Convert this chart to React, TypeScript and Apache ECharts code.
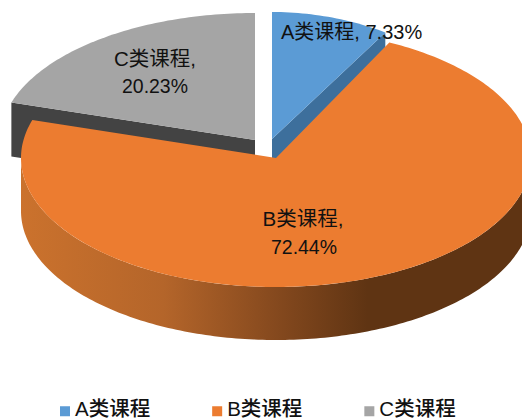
import React, { useEffect, useRef } from "react";
import * as echarts from "echarts";

const categories = ["A类课程", "B类课程", "C类课程"];
const shares = [7.33, 72.44, 20.23];
const faceColors = ["#5b9bd5", "#ec7c30", "#a5a5a5"];
const sideColors = ["#3d6f9c", "#8a4b1d", "#434343"];
const sideStops = [
  { offset: 0, color: "#cb722d" },
  { offset: 0.28, color: "#b4652a" },
  { offset: 0.5, color: "#85491e" },
  { offset: 0.68, color: "#5f3413" },
  { offset: 1, color: "#5f3413" },
];
const centers = [
  [272, 139],
  [276, 158],
  [255, 140],
];
const radiiX = [255, 255, 255];
const radiiY = [127, 129, 127];
const perspective = [1.25, 1, 1];
const thickness = 54;
const labelLines = [
  [[281, 32, "left", true]],
  [[303, 218, "center", false], [304, 247, "center", false]],
  [[155, 58, "center", false], [155, 86, "center", false]],
];
const drawOrder = [2, 0, 1];
const FONT = '"Liberation Sans", "Noto Sans CJK SC", sans-serif';
const LEGEND_ICON = "path://M0 0L10 0L10 0.01L0 0.01Z M0 6L10 6L10 16L0 16Z";

const total = shares.reduce((a, b) => a + b, 0);

function startAngle(index: number) {
  let s = 0;
  for (let i = 0; i < index; i++) s += shares[i];
  return (s / total) * 360;
}

function rim(i: number, from: number, to: number, dy = 0) {
  const [cx, cy] = centers[i];
  const pts: number[][] = [];
  const n = Math.max(2, Math.ceil(Math.abs(to - from)));
  for (let k = 0; k <= n; k++) {
    const t = ((from + ((to - from) * k) / n) * Math.PI) / 180;
    pts.push([cx + radiiX[i] * Math.sin(t), cy - radiiY[i] * Math.cos(t * perspective[i]) + dy]);
  }
  return pts;
}

function renderSlice(i: number) {
  return () => {
    const [cx, cy] = centers[i];
    const a0 = startAngle(i);
    const a1 = a0 + (shares[i] / total) * 360;
    const children: any[] = [];
    // radial wall, visible for slices whose cut edge faces the viewer
    if (i === 0) {
      const e = rim(i, a1, a1)[0];
      children.push({
        type: "polygon",
        shape: { points: [[cx, cy], e, [e[0], e[1] + thickness], [cx, cy + thickness]] },
        style: { fill: sideColors[i] },
      });
    }
    if (i === 2) {
      const e = rim(i, a0, a0)[0];
      children.push({
        type: "polygon",
        shape: { points: [[cx, cy], e, [e[0], e[1] + thickness], [cx, cy + thickness]] },
        style: { fill: sideColors[i] },
      });
    }
    // outer wall on the front half of the ellipse
    const f0 = Math.max(a0, 90);
    const f1 = Math.min(a1, 270);
    if (f1 > f0) {
      children.push({
        type: "polygon",
        shape: { points: [...rim(i, f0, f1), ...rim(i, f0, f1, thickness - 1).reverse()] },
        style: {
          fill: { type: "linear", x: 0, y: 0, x2: 1, y2: 0, colorStops: sideStops },
        },
      });
    }
    // top face
    children.push({
      type: "polygon",
      shape: { points: [[cx, cy], ...rim(i, a0, a1)] },
      style: { fill: faceColors[i] },
    });
    return { type: "group", children };
  };
}

function renderLabels() {
  const children: any[] = [];
  categories.forEach((name, i) => {
    const pct = shares[i].toFixed(2) + "%";
    const lines = labelLines[i];
    lines.forEach((l: any, k: number) => {
      const text = l[3] ? `${name}, ${pct}` : k === 0 ? `${name},` : pct;
      const narrow = !l[3] && k === 1;
      children.push({
        type: "text",
        x: l[0],
        y: l[1],
        scaleX: narrow ? 0.95 : 1,
        style: {
          text,
          x: 0,
          y: 0,
          fill: "#111111",
          fontSize: l[3] ? 20 : 20.5,
          fontFamily: FONT,
          align: l[2],
          verticalAlign: "middle",
        },
      });
    });
  });
  return { type: "group", children };
}

export default function App() {
  const ref = useRef<HTMLDivElement>(null);
  useEffect(() => {
    document.body.style.margin = "0";
    const chart = echarts.init(ref.current!, null, { renderer: "svg" });
    chart.setOption({
      animation: false,
      color: faceColors,
      legend: {
        data: categories,
        left: 60,
        top: 398,
        icon: LEGEND_ICON,
        itemWidth: 10,
        itemHeight: 16,
        itemGap: 62,
        selectedMode: false,
        padding: 0,
        textStyle: {
          fontSize: 20.5,
          fontWeight: 500,
          color: "#111111",
          fontFamily: FONT,
        },
      },
      series: [
        ...drawOrder.map((i) => ({
          type: "custom",
          name: categories[i],
          coordinateSystem: "none",
          silent: true,
          z: 2,
          itemStyle: { color: faceColors[i] },
          data: [shares[i]],
          renderItem: renderSlice(i),
        })),
        {
          type: "custom",
          name: "labels",
          coordinateSystem: "none",
          silent: true,
          z: 3,
          data: [0],
          renderItem: renderLabels,
        },
      ],
    });
    return () => chart.dispose();
  }, []);
  return <div ref={ref} style={{ width: 522, height: 420, position: "absolute", left: 0, top: 0 }} />;
}
